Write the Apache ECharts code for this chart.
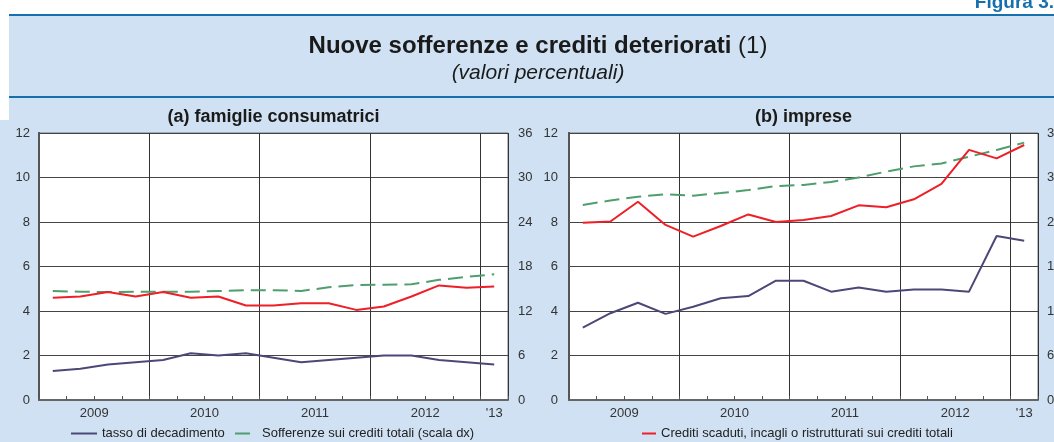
<!DOCTYPE html>
<html>
<head>
<meta charset="utf-8">
<script src="https://cdn.jsdelivr.net/npm/echarts@6/dist/echarts.min.js"></script>
<style>
  html, body { margin: 0; padding: 0; background: #fff; }
  #chart { width: 1054px; height: 442px; }
</style>
</head>
<body>
<div id="chart"></div>
<script>
// trimestri 2009Q1 - 2013Q1
var quarters = ['2009T1', '2009T2', '2009T3', '2009T4', '2010T1', '2010T2', '2010T3', '2010T4',
  '2011T1', '2011T2', '2011T3', '2011T4', '2012T1', '2012T2', '2012T3', '2012T4', '2013T1'];
var yearLabels = ['2009', '2010', '2011', '2012', "'13"];
var quartersPerYear = [4, 4, 4, 4, 1];

var leftTicks = [0, 2, 4, 6, 8, 10, 12];
var rightTicks = [0, 6, 12, 18, 24, 30, 36];

// (a) famiglie consumatrici
var famTasso = [1.3, 1.4, 1.6, 1.7, 1.8, 2.1, 2.0, 2.1, 1.9, 1.7, 1.8, 1.9, 2.0, 2.0, 1.8, 1.7, 1.6];
var famCrediti = [4.6, 4.65, 4.85, 4.65, 4.85, 4.6, 4.65, 4.25, 4.25, 4.35, 4.35, 4.05, 4.2, 4.65, 5.15, 5.05, 5.1];
var famSofferenze = [14.7, 14.6, 14.55, 14.6, 14.6, 14.6, 14.7, 14.8, 14.8, 14.7, 15.2, 15.5, 15.55, 15.6, 16.2, 16.6, 16.95];

// (b) imprese
var impTasso = [3.25, 3.9, 4.37, 3.87, 4.19, 4.57, 4.67, 5.36, 5.36, 4.87, 5.06, 4.87, 4.97, 4.97, 4.87, 7.37, 7.16];
var impCrediti = [7.97, 8.02, 8.91, 7.87, 7.34, 7.82, 8.34, 8.0, 8.09, 8.27, 8.75, 8.66, 9.02, 9.71, 11.24, 10.86, 11.46];
var impSofferenze = [26.3, 26.9, 27.4, 27.75, 27.55, 27.9, 28.3, 28.85, 29.0, 29.4, 30.0, 30.8, 31.5, 31.9, 32.8, 33.7, 34.7];

var nameTasso = 'tasso di decadimento';
var nameSoff = 'Sofferenze sui crediti totali (scala dx)';
var nameCred = 'Crediti scaduti, incagli o ristrutturati sui crediti totali';

var FONT = 'Liberation Sans, Arial, sans-serif';
var BLUE = '#1570ad';
var PURPLE = '#4b4878';
var RED = '#ee1f26';
var GREEN = '#4f9e6d';

// posizione (in trimestri) dell'etichetta di ogni anno: centro dell'anno
var labelAt = {};
var acc = 0;
for (var i = 0; i < quartersPerYear.length; i++) {
  labelAt[acc + quartersPerYear[i] / 2] = yearLabels[i];
  acc += quartersPerYear[i];
}
var nQ = quarters.length;

var grids = [
  { left: 39, top: 133, width: 469, height: 267 },
  { left: 569, top: 133, width: 469, height: 267 }
];

function plotGrid(gr) {
  return {
    left: gr.left, top: gr.top, width: gr.width, height: gr.height,
    containLabel: false, outerBoundsMode: 'none',
    show: true, backgroundColor: '#fff', borderColor: '#777', borderWidth: 1
  };
}

function xAxesFor(g) {
  return [
    {
      gridIndex: g, type: 'category', position: 'bottom', data: quarters, boundaryGap: true,
      axisLine: { show: true, lineStyle: { color: '#666', width: 2 } },
      axisTick: { show: true, inside: true, length: 4, interval: 0, lineStyle: { color: '#555' } },
      axisLabel: { show: false }, splitLine: { show: false }
    },
    {
      // linee verticali di separazione degli anni
      gridIndex: g, type: 'value', position: 'bottom', min: 0, max: nQ, interval: quartersPerYear[0],
      axisLine: { show: false }, axisTick: { show: false }, axisLabel: { show: false },
      splitLine: { show: true, lineStyle: { color: '#333', width: 1 } }
    },
    {
      // etichette degli anni
      gridIndex: g, type: 'value', position: 'bottom', min: 0, max: nQ, interval: 0.5,
      axisLine: { show: false }, axisTick: { show: false }, splitLine: { show: false },
      axisLabel: {
        show: true, margin: 7, color: '#333', fontSize: 13, fontFamily: FONT,
        formatter: function (v) { return labelAt[v] || ''; }
      }
    }
  ];
}

function yAxisFor(g, pos, ticks, margin, split) {
  return {
    gridIndex: g, type: 'value', position: pos,
    min: ticks[0], max: ticks[ticks.length - 1], interval: ticks[1] - ticks[0],
    axisLine: { show: true, lineStyle: { color: '#555', width: 2 } },
    axisTick: { show: false },
    axisLabel: { margin: margin, color: '#333', fontSize: 13, fontFamily: FONT },
    splitLine: { show: split, lineStyle: { color: '#444', width: 1 } }
  };
}

function line(name, xi, yi, data, color, dashed) {
  return {
    name: name, type: 'line', xAxisIndex: xi, yAxisIndex: yi, data: data,
    symbol: 'none', smooth: false, silent: true,
    lineStyle: { color: color, width: 2, type: dashed ? [15, 7] : 'solid' },
    itemStyle: { color: color },
    z: dashed ? 3 : 4
  };
}

function legendFor(name, left, w) {
  return {
    data: [name], left: left, top: 427, padding: 0, itemWidth: w, itemHeight: 14, selectedMode: false,
    itemStyle: { opacity: 0 },
    textStyle: { fontSize: 13, color: '#222', fontFamily: FONT }
  };
}

var chart = echarts.init(document.getElementById('chart'), null, { renderer: 'canvas' });

chart.setOption({
  backgroundColor: '#cfe1f2',
  animation: false,
  textStyle: { fontFamily: FONT },
  grid: grids.map(plotGrid),
  xAxis: xAxesFor(0).concat(xAxesFor(1)),
  yAxis: [
    yAxisFor(0, 'left', leftTicks, 9, true),
    yAxisFor(0, 'right', rightTicks, 10, false),
    yAxisFor(1, 'left', leftTicks, 11, true),
    yAxisFor(1, 'right', rightTicks, 9, false)
  ],
  legend: [
    legendFor(nameTasso, 70, 26),
    legendFor(nameSoff, 234, 22),
    legendFor(nameCred, 641, 14)
  ],
  graphic: [
    { type: 'rect', z: 1, shape: { x: 0, y: 0, width: 1054, height: 14 }, style: { fill: '#fff' } },
    { type: 'rect', z: 1, shape: { x: 0, y: 0, width: 9, height: 120 }, style: { fill: '#fff' } },
    { type: 'rect', z: 2, shape: { x: 9, y: 14, width: 1045, height: 2 }, style: { fill: BLUE } },
    { type: 'rect', z: 2, shape: { x: 9, y: 96, width: 1045, height: 2 }, style: { fill: BLUE } },
    { type: 'text', z: 3, x: 1054, y: 12,
      style: { text: 'Figura 3.', fill: BLUE, font: 'bold 19px ' + FONT, textAlign: 'right', textVerticalAlign: 'bottom' } },
    { type: 'text', z: 3, x: 538, y: 46,
      style: {
        text: '{b|Nuove sofferenze e crediti deteriorati}{n| (1)}', textAlign: 'center', textVerticalAlign: 'middle',
        rich: {
          b: { font: 'bold 24px ' + FONT, fill: '#1a1a1a' },
          n: { font: '24px ' + FONT, fill: '#1a1a1a' }
        }
      } },
    { type: 'text', z: 3, x: 538, y: 73,
      style: { text: '(valori percentuali)', fill: '#1a1a1a', font: 'italic 21px ' + FONT, textAlign: 'center', textVerticalAlign: 'middle' } },
    { type: 'text', z: 3, x: 273.5, y: 117,
      style: { text: '(a) famiglie consumatrici', fill: '#1a1a1a', font: 'bold 18px ' + FONT, textAlign: 'center', textVerticalAlign: 'middle' } },
    { type: 'text', z: 3, x: 803.5, y: 117,
      style: { text: '(b) imprese', fill: '#1a1a1a', font: 'bold 18px ' + FONT, textAlign: 'center', textVerticalAlign: 'middle' } }
  ],
  series: [
    line(nameSoff, 0, 1, famSofferenze, GREEN, true),
    line(nameCred, 0, 0, famCrediti, RED, false),
    line(nameTasso, 0, 0, famTasso, PURPLE, false),
    line(nameSoff, 3, 3, impSofferenze, GREEN, true),
    line(nameCred, 3, 2, impCrediti, RED, false),
    line(nameTasso, 3, 2, impTasso, PURPLE, false)
  ]
});
</script>
</body>
</html>
